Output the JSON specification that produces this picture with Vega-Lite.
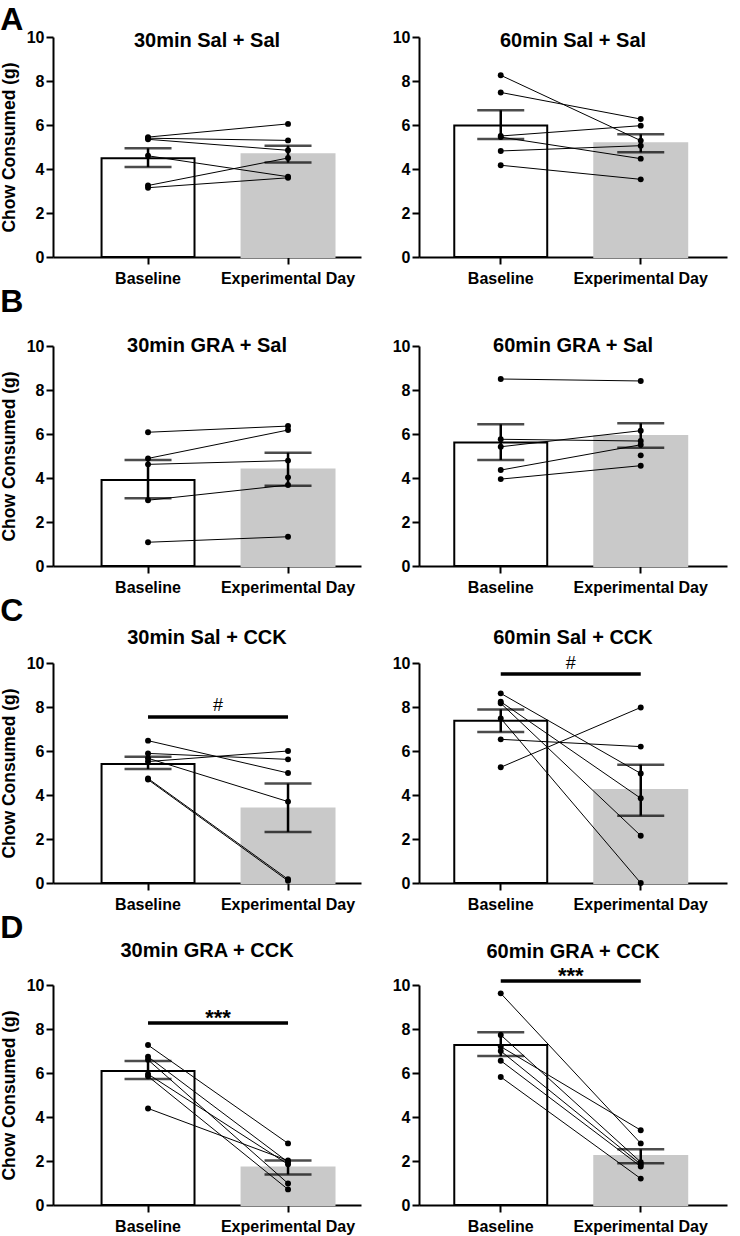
{
 "$schema": "https://vega.github.io/schema/vega-lite/v6.json",
 "padding": {"left": 0, "top": 4, "right": 5, "bottom": 2},
 "datasets": {
  "pts": [
   {"p":"A1","s":1,"c":"Baseline","v":5.45},{"p":"A1","s":1,"c":"Experimental Day","v":6.05},
   {"p":"A1","s":2,"c":"Baseline","v":5.4},{"p":"A1","s":2,"c":"Experimental Day","v":5.3},
   {"p":"A1","s":3,"c":"Baseline","v":5.35},{"p":"A1","s":3,"c":"Experimental Day","v":4.85},
   {"p":"A1","s":4,"c":"Baseline","v":4.6},{"p":"A1","s":4,"c":"Experimental Day","v":3.65},
   {"p":"A1","s":5,"c":"Baseline","v":3.25},{"p":"A1","s":5,"c":"Experimental Day","v":4.5},
   {"p":"A1","s":6,"c":"Baseline","v":3.15},{"p":"A1","s":6,"c":"Experimental Day","v":3.6},
   {"p":"A2","s":1,"c":"Baseline","v":8.26},{"p":"A2","s":1,"c":"Experimental Day","v":5.29},
   {"p":"A2","s":2,"c":"Baseline","v":7.48},{"p":"A2","s":2,"c":"Experimental Day","v":6.27},
   {"p":"A2","s":3,"c":"Baseline","v":5.5},{"p":"A2","s":3,"c":"Experimental Day","v":5.97},
   {"p":"A2","s":4,"c":"Baseline","v":5.45},{"p":"A2","s":4,"c":"Experimental Day","v":4.47},
   {"p":"A2","s":5,"c":"Baseline","v":4.82},{"p":"A2","s":5,"c":"Experimental Day","v":5.06},
   {"p":"A2","s":6,"c":"Baseline","v":4.17},{"p":"A2","s":6,"c":"Experimental Day","v":3.53},
   {"p":"B1","s":1,"c":"Baseline","v":6.08},{"p":"B1","s":1,"c":"Experimental Day","v":6.36},
   {"p":"B1","s":2,"c":"Baseline","v":4.89},{"p":"B1","s":2,"c":"Experimental Day","v":6.18},
   {"p":"B1","s":3,"c":"Baseline","v":4.62},{"p":"B1","s":3,"c":"Experimental Day","v":4.79},
   {"p":"B1","s":4,"c":"Baseline","v":2.99},{"p":"B1","s":4,"c":"Experimental Day","v":3.68},
   {"p":"B1","s":5,"c":"Baseline","v":1.08},{"p":"B1","s":5,"c":"Experimental Day","v":1.33},
   {"p":"B1","s":6,"c":"Experimental Day","v":4.03},
   {"p":"B2","s":1,"c":"Baseline","v":8.5},{"p":"B2","s":1,"c":"Experimental Day","v":8.41},
   {"p":"B2","s":2,"c":"Baseline","v":5.76},{"p":"B2","s":2,"c":"Experimental Day","v":5.68},
   {"p":"B2","s":3,"c":"Baseline","v":5.42},{"p":"B2","s":3,"c":"Experimental Day","v":6.15},
   {"p":"B2","s":4,"c":"Baseline","v":4.36},{"p":"B2","s":4,"c":"Experimental Day","v":5.51},
   {"p":"B2","s":5,"c":"Baseline","v":3.95},{"p":"B2","s":5,"c":"Experimental Day","v":4.56},
   {"p":"B2","s":6,"c":"Experimental Day","v":5.03},
   {"p":"C1","s":1,"c":"Baseline","v":6.47},{"p":"C1","s":1,"c":"Experimental Day","v":5.0},
   {"p":"C1","s":2,"c":"Baseline","v":5.89},{"p":"C1","s":2,"c":"Experimental Day","v":5.62},
   {"p":"C1","s":3,"c":"Baseline","v":5.52},{"p":"C1","s":3,"c":"Experimental Day","v":6.0},
   {"p":"C1","s":4,"c":"Baseline","v":5.67},{"p":"C1","s":4,"c":"Experimental Day","v":3.7},
   {"p":"C1","s":5,"c":"Baseline","v":4.75},{"p":"C1","s":5,"c":"Experimental Day","v":0.17},
   {"p":"C1","s":6,"c":"Baseline","v":4.7},{"p":"C1","s":6,"c":"Experimental Day","v":0.1},
   {"p":"C2","s":1,"c":"Baseline","v":5.26},{"p":"C2","s":1,"c":"Experimental Day","v":7.98},
   {"p":"C2","s":2,"c":"Baseline","v":6.53},{"p":"C2","s":2,"c":"Experimental Day","v":6.2},
   {"p":"C2","s":3,"c":"Baseline","v":8.62},{"p":"C2","s":3,"c":"Experimental Day","v":4.98},
   {"p":"C2","s":4,"c":"Baseline","v":8.24},{"p":"C2","s":4,"c":"Experimental Day","v":3.85},
   {"p":"C2","s":5,"c":"Baseline","v":8.17},{"p":"C2","s":5,"c":"Experimental Day","v":2.15},
   {"p":"C2","s":6,"c":"Baseline","v":7.48},{"p":"C2","s":6,"c":"Experimental Day","v":0.0},
   {"p":"D1","s":1,"c":"Baseline","v":7.27},{"p":"D1","s":1,"c":"Experimental Day","v":2.8},
   {"p":"D1","s":2,"c":"Baseline","v":6.74},{"p":"D1","s":2,"c":"Experimental Day","v":1.95},
   {"p":"D1","s":3,"c":"Baseline","v":6.6},{"p":"D1","s":3,"c":"Experimental Day","v":0.98},
   {"p":"D1","s":4,"c":"Baseline","v":5.95},{"p":"D1","s":4,"c":"Experimental Day","v":1.85},
   {"p":"D1","s":5,"c":"Baseline","v":5.85},{"p":"D1","s":5,"c":"Experimental Day","v":0.71},
   {"p":"D1","s":6,"c":"Baseline","v":4.39},{"p":"D1","s":6,"c":"Experimental Day","v":2.02},
   {"p":"D2","s":1,"c":"Baseline","v":9.62},{"p":"D2","s":1,"c":"Experimental Day","v":2.8},
   {"p":"D2","s":2,"c":"Baseline","v":7.73},{"p":"D2","s":2,"c":"Experimental Day","v":1.95},
   {"p":"D2","s":3,"c":"Baseline","v":7.2},{"p":"D2","s":3,"c":"Experimental Day","v":3.4},
   {"p":"D2","s":4,"c":"Baseline","v":7.0},{"p":"D2","s":4,"c":"Experimental Day","v":1.85},
   {"p":"D2","s":5,"c":"Baseline","v":6.56},{"p":"D2","s":5,"c":"Experimental Day","v":1.75},
   {"p":"D2","s":6,"c":"Baseline","v":5.82},{"p":"D2","s":6,"c":"Experimental Day","v":1.2}
  ],
  "summ": [
   {"p":"A1","c":"Baseline","m":4.49,"lo":4.09,"hi":4.94},{"p":"A1","c":"Experimental Day","m":4.67,"lo":4.29,"hi":5.06},
   {"p":"A2","c":"Baseline","m":5.98,"lo":5.36,"hi":6.67},{"p":"A2","c":"Experimental Day","m":5.17,"lo":4.76,"hi":5.58},
   {"p":"B1","c":"Baseline","m":3.91,"lo":3.08,"hi":4.82},{"p":"B1","c":"Experimental Day","m":4.39,"lo":3.65,"hi":5.15},
   {"p":"B2","c":"Baseline","m":5.61,"lo":4.82,"hi":6.44},{"p":"B2","c":"Experimental Day","m":5.91,"lo":5.38,"hi":6.49},
   {"p":"C1","c":"Baseline","m":5.41,"lo":5.18,"hi":5.74},{"p":"C1","c":"Experimental Day","m":3.39,"lo":2.32,"hi":4.52},
   {"p":"C2","c":"Baseline","m":7.38,"lo":6.86,"hi":7.89},{"p":"C2","c":"Experimental Day","m":4.23,"lo":3.06,"hi":5.38},
   {"p":"D1","c":"Baseline","m":6.09,"lo":5.73,"hi":6.55},{"p":"D1","c":"Experimental Day","m":1.7,"lo":1.39,"hi":2.02},
   {"p":"D2","c":"Baseline","m":7.27,"lo":6.77,"hi":7.85},{"p":"D2","c":"Experimental Day","m":2.23,"lo":1.9,"hi":2.53}
  ],
  "sig": [
   {"p":"C1","from":"Baseline","to":"Experimental Day","y":7.55,"label":"#"},
   {"p":"C2","from":"Baseline","to":"Experimental Day","y":9.5,"label":"#"},
   {"p":"D1","from":"Baseline","to":"Experimental Day","y":8.27,"label":"***"},
   {"p":"D2","from":"Baseline","to":"Experimental Day","y":10.18,"label":"***"}
  ]
 },
 "spacing": 0,
 "vconcat": [
  {
   "title": {"text": "A", "anchor": "start", "fontSize": 32, "offset": -8},
   "spacing": 31,
   "hconcat": [
    {
     "width": 308, "height": 220,
     "title": {"text": "30min Sal + Sal", "offset": -22},
     "encoding": {"x": {"field": "c", "type": "nominal", "title": null, "scale": {"domain": ["Baseline", "Experimental Day"], "paddingInner": 0.336, "paddingOuter": 0.268, "align": 0.647}, "axis": {"labelAngle": 0}}},
     "layer": [
      {"data": {"name": "summ"}, "transform": [{"filter": "datum.p==='A1'"}], "mark": {"type": "bar", "strokeWidth": 2}, "encoding": {"y": {"field": "m", "type": "quantitative", "title": "Chow Consumed (g)", "scale": {"domain": [0, 10]}}, "fill": {"field": "c", "type": "nominal", "scale": {"domain": ["Baseline", "Experimental Day"], "range": ["white", "#c9c9c9"]}, "legend": null}, "stroke": {"field": "c", "type": "nominal", "scale": {"domain": ["Baseline", "Experimental Day"], "range": ["black", "#c9c9c9"]}, "legend": null}}},
      {"data": {"name": "pts"}, "transform": [{"filter": "datum.p==='A1'"}], "mark": {"type": "line", "color": "black", "strokeWidth": 1}, "encoding": {"y": {"field": "v", "type": "quantitative", "title": "Chow Consumed (g)"}, "detail": {"field": "s", "type": "nominal"}}},
      {"data": {"name": "pts"}, "transform": [{"filter": "datum.p==='A1'"}], "mark": {"type": "circle", "color": "black", "size": 35, "opacity": 1}, "encoding": {"y": {"field": "v", "type": "quantitative", "title": "Chow Consumed (g)"}}},
      {"data": {"name": "summ"}, "transform": [{"filter": "datum.p==='A1'"}], "mark": {"type": "rule", "color": "black", "strokeWidth": 2.5}, "encoding": {"y": {"field": "lo", "type": "quantitative", "title": "Chow Consumed (g)"}, "y2": {"field": "hi"}}},
      {"data": {"name": "summ"}, "transform": [{"filter": "datum.p==='A1'"}], "mark": {"type": "tick", "color": "black", "thickness": 2.5, "size": 47}, "encoding": {"y": {"field": "lo", "type": "quantitative", "title": "Chow Consumed (g)"}}},
      {"data": {"name": "summ"}, "transform": [{"filter": "datum.p==='A1'"}], "mark": {"type": "tick", "color": "black", "thickness": 2.5, "size": 47}, "encoding": {"y": {"field": "hi", "type": "quantitative", "title": "Chow Consumed (g)"}}}
     ]
    },
    {
     "width": 308, "height": 220,
     "title": {"text": "60min Sal + Sal", "offset": -22},
     "encoding": {"x": {"field": "c", "type": "nominal", "title": null, "scale": {"domain": ["Baseline", "Experimental Day"], "paddingInner": 0.336, "paddingOuter": 0.268, "align": 0.47}, "axis": {"labelAngle": 0}}},
     "layer": [
      {"data": {"name": "summ"}, "transform": [{"filter": "datum.p==='A2'"}], "mark": {"type": "bar", "strokeWidth": 2}, "encoding": {"y": {"field": "m", "type": "quantitative", "title": null, "scale": {"domain": [0, 10]}}, "fill": {"field": "c", "type": "nominal", "scale": {"domain": ["Baseline", "Experimental Day"], "range": ["white", "#c9c9c9"]}, "legend": null}, "stroke": {"field": "c", "type": "nominal", "scale": {"domain": ["Baseline", "Experimental Day"], "range": ["black", "#c9c9c9"]}, "legend": null}}},
      {"data": {"name": "pts"}, "transform": [{"filter": "datum.p==='A2'"}], "mark": {"type": "line", "color": "black", "strokeWidth": 1}, "encoding": {"y": {"field": "v", "type": "quantitative", "title": null}, "detail": {"field": "s", "type": "nominal"}}},
      {"data": {"name": "pts"}, "transform": [{"filter": "datum.p==='A2'"}], "mark": {"type": "circle", "color": "black", "size": 35, "opacity": 1}, "encoding": {"y": {"field": "v", "type": "quantitative", "title": null}}},
      {"data": {"name": "summ"}, "transform": [{"filter": "datum.p==='A2'"}], "mark": {"type": "rule", "color": "black", "strokeWidth": 2.5}, "encoding": {"y": {"field": "lo", "type": "quantitative", "title": null}, "y2": {"field": "hi"}}},
      {"data": {"name": "summ"}, "transform": [{"filter": "datum.p==='A2'"}], "mark": {"type": "tick", "color": "black", "thickness": 2.5, "size": 47}, "encoding": {"y": {"field": "lo", "type": "quantitative", "title": null}}},
      {"data": {"name": "summ"}, "transform": [{"filter": "datum.p==='A2'"}], "mark": {"type": "tick", "color": "black", "thickness": 2.5, "size": 47}, "encoding": {"y": {"field": "hi", "type": "quantitative", "title": null}}}
     ]
    }
   ]
  },
  {
   "title": {"text": "B", "anchor": "start", "fontSize": 32, "offset": 16.7},
   "spacing": 31,
   "hconcat": [
    {
     "width": 308, "height": 220,
     "title": {"text": "30min GRA + Sal", "offset": -18},
     "encoding": {"x": {"field": "c", "type": "nominal", "title": null, "scale": {"domain": ["Baseline", "Experimental Day"], "paddingInner": 0.336, "paddingOuter": 0.268, "align": 0.647}, "axis": {"labelAngle": 0}}},
     "layer": [
      {"data": {"name": "summ"}, "transform": [{"filter": "datum.p==='B1'"}], "mark": {"type": "bar", "strokeWidth": 2}, "encoding": {"y": {"field": "m", "type": "quantitative", "title": "Chow Consumed (g)", "scale": {"domain": [0, 10]}}, "fill": {"field": "c", "type": "nominal", "scale": {"domain": ["Baseline", "Experimental Day"], "range": ["white", "#c9c9c9"]}, "legend": null}, "stroke": {"field": "c", "type": "nominal", "scale": {"domain": ["Baseline", "Experimental Day"], "range": ["black", "#c9c9c9"]}, "legend": null}}},
      {"data": {"name": "pts"}, "transform": [{"filter": "datum.p==='B1'"}], "mark": {"type": "line", "color": "black", "strokeWidth": 1}, "encoding": {"y": {"field": "v", "type": "quantitative", "title": "Chow Consumed (g)"}, "detail": {"field": "s", "type": "nominal"}}},
      {"data": {"name": "pts"}, "transform": [{"filter": "datum.p==='B1'"}], "mark": {"type": "circle", "color": "black", "size": 35, "opacity": 1}, "encoding": {"y": {"field": "v", "type": "quantitative", "title": "Chow Consumed (g)"}}},
      {"data": {"name": "summ"}, "transform": [{"filter": "datum.p==='B1'"}], "mark": {"type": "rule", "color": "black", "strokeWidth": 2.5}, "encoding": {"y": {"field": "lo", "type": "quantitative", "title": "Chow Consumed (g)"}, "y2": {"field": "hi"}}},
      {"data": {"name": "summ"}, "transform": [{"filter": "datum.p==='B1'"}], "mark": {"type": "tick", "color": "black", "thickness": 2.5, "size": 47}, "encoding": {"y": {"field": "lo", "type": "quantitative", "title": "Chow Consumed (g)"}}},
      {"data": {"name": "summ"}, "transform": [{"filter": "datum.p==='B1'"}], "mark": {"type": "tick", "color": "black", "thickness": 2.5, "size": 47}, "encoding": {"y": {"field": "hi", "type": "quantitative", "title": "Chow Consumed (g)"}}}
     ]
    },
    {
     "width": 308, "height": 220,
     "title": {"text": "60min GRA + Sal", "offset": -18},
     "encoding": {"x": {"field": "c", "type": "nominal", "title": null, "scale": {"domain": ["Baseline", "Experimental Day"], "paddingInner": 0.336, "paddingOuter": 0.268, "align": 0.47}, "axis": {"labelAngle": 0}}},
     "layer": [
      {"data": {"name": "summ"}, "transform": [{"filter": "datum.p==='B2'"}], "mark": {"type": "bar", "strokeWidth": 2}, "encoding": {"y": {"field": "m", "type": "quantitative", "title": null, "scale": {"domain": [0, 10]}}, "fill": {"field": "c", "type": "nominal", "scale": {"domain": ["Baseline", "Experimental Day"], "range": ["white", "#c9c9c9"]}, "legend": null}, "stroke": {"field": "c", "type": "nominal", "scale": {"domain": ["Baseline", "Experimental Day"], "range": ["black", "#c9c9c9"]}, "legend": null}}},
      {"data": {"name": "pts"}, "transform": [{"filter": "datum.p==='B2'"}], "mark": {"type": "line", "color": "black", "strokeWidth": 1}, "encoding": {"y": {"field": "v", "type": "quantitative", "title": null}, "detail": {"field": "s", "type": "nominal"}}},
      {"data": {"name": "pts"}, "transform": [{"filter": "datum.p==='B2'"}], "mark": {"type": "circle", "color": "black", "size": 35, "opacity": 1}, "encoding": {"y": {"field": "v", "type": "quantitative", "title": null}}},
      {"data": {"name": "summ"}, "transform": [{"filter": "datum.p==='B2'"}], "mark": {"type": "rule", "color": "black", "strokeWidth": 2.5}, "encoding": {"y": {"field": "lo", "type": "quantitative", "title": null}, "y2": {"field": "hi"}}},
      {"data": {"name": "summ"}, "transform": [{"filter": "datum.p==='B2'"}], "mark": {"type": "tick", "color": "black", "thickness": 2.5, "size": 47}, "encoding": {"y": {"field": "lo", "type": "quantitative", "title": null}}},
      {"data": {"name": "summ"}, "transform": [{"filter": "datum.p==='B2'"}], "mark": {"type": "tick", "color": "black", "thickness": 2.5, "size": 47}, "encoding": {"y": {"field": "hi", "type": "quantitative", "title": null}}}
     ]
    }
   ]
  },
  {
   "title": {"text": "C", "anchor": "start", "fontSize": 32, "offset": -0.3},
   "spacing": 31,
   "hconcat": [
    {
     "width": 308, "height": 220,
     "title": {"text": "30min Sal + CCK", "offset": 7},
     "encoding": {"x": {"field": "c", "type": "nominal", "title": null, "scale": {"domain": ["Baseline", "Experimental Day"], "paddingInner": 0.336, "paddingOuter": 0.268, "align": 0.647}, "axis": {"labelAngle": 0}}},
     "layer": [
      {"data": {"name": "summ"}, "transform": [{"filter": "datum.p==='C1'"}], "mark": {"type": "bar", "strokeWidth": 2}, "encoding": {"y": {"field": "m", "type": "quantitative", "title": "Chow Consumed (g)", "scale": {"domain": [0, 10]}}, "fill": {"field": "c", "type": "nominal", "scale": {"domain": ["Baseline", "Experimental Day"], "range": ["white", "#c9c9c9"]}, "legend": null}, "stroke": {"field": "c", "type": "nominal", "scale": {"domain": ["Baseline", "Experimental Day"], "range": ["black", "#c9c9c9"]}, "legend": null}}},
      {"data": {"name": "pts"}, "transform": [{"filter": "datum.p==='C1'"}], "mark": {"type": "line", "color": "black", "strokeWidth": 1}, "encoding": {"y": {"field": "v", "type": "quantitative", "title": "Chow Consumed (g)"}, "detail": {"field": "s", "type": "nominal"}}},
      {"data": {"name": "pts"}, "transform": [{"filter": "datum.p==='C1'"}], "mark": {"type": "circle", "color": "black", "size": 35, "opacity": 1}, "encoding": {"y": {"field": "v", "type": "quantitative", "title": "Chow Consumed (g)"}}},
      {"data": {"name": "summ"}, "transform": [{"filter": "datum.p==='C1'"}], "mark": {"type": "rule", "color": "black", "strokeWidth": 2.5}, "encoding": {"y": {"field": "lo", "type": "quantitative", "title": "Chow Consumed (g)"}, "y2": {"field": "hi"}}},
      {"data": {"name": "summ"}, "transform": [{"filter": "datum.p==='C1'"}], "mark": {"type": "tick", "color": "black", "thickness": 2.5, "size": 47}, "encoding": {"y": {"field": "lo", "type": "quantitative", "title": "Chow Consumed (g)"}}},
      {"data": {"name": "summ"}, "transform": [{"filter": "datum.p==='C1'"}], "mark": {"type": "tick", "color": "black", "thickness": 2.5, "size": 47}, "encoding": {"y": {"field": "hi", "type": "quantitative", "title": "Chow Consumed (g)"}}},
      {"data": {"name": "sig"}, "transform": [{"filter": "datum.p==='C1'"}], "mark": {"type": "rule", "color": "black", "strokeWidth": 3.5}, "encoding": {"x": {"field": "from", "type": "nominal", "title": null}, "x2": {"field": "to"}, "y": {"field": "y", "type": "quantitative", "title": "Chow Consumed (g)"}}},
      {"data": {"name": "sig"}, "transform": [{"filter": "datum.p==='C1'"}], "mark": {"type": "text", "dx": 70, "dy": -6, "baseline": "alphabetic", "fontSize": 18, "color": "black"}, "encoding": {"x": {"field": "from", "type": "nominal", "title": null}, "y": {"field": "y", "type": "quantitative", "title": "Chow Consumed (g)"}, "text": {"field": "label"}}}
     ]
    },
    {
     "width": 308, "height": 220,
     "title": {"text": "60min Sal + CCK", "offset": 7},
     "encoding": {"x": {"field": "c", "type": "nominal", "title": null, "scale": {"domain": ["Baseline", "Experimental Day"], "paddingInner": 0.336, "paddingOuter": 0.268, "align": 0.47}, "axis": {"labelAngle": 0}}},
     "layer": [
      {"data": {"name": "summ"}, "transform": [{"filter": "datum.p==='C2'"}], "mark": {"type": "bar", "strokeWidth": 2}, "encoding": {"y": {"field": "m", "type": "quantitative", "title": null, "scale": {"domain": [0, 10]}}, "fill": {"field": "c", "type": "nominal", "scale": {"domain": ["Baseline", "Experimental Day"], "range": ["white", "#c9c9c9"]}, "legend": null}, "stroke": {"field": "c", "type": "nominal", "scale": {"domain": ["Baseline", "Experimental Day"], "range": ["black", "#c9c9c9"]}, "legend": null}}},
      {"data": {"name": "pts"}, "transform": [{"filter": "datum.p==='C2'"}], "mark": {"type": "line", "color": "black", "strokeWidth": 1}, "encoding": {"y": {"field": "v", "type": "quantitative", "title": null}, "detail": {"field": "s", "type": "nominal"}}},
      {"data": {"name": "pts"}, "transform": [{"filter": "datum.p==='C2'"}], "mark": {"type": "circle", "color": "black", "size": 35, "opacity": 1}, "encoding": {"y": {"field": "v", "type": "quantitative", "title": null}}},
      {"data": {"name": "summ"}, "transform": [{"filter": "datum.p==='C2'"}], "mark": {"type": "rule", "color": "black", "strokeWidth": 2.5}, "encoding": {"y": {"field": "lo", "type": "quantitative", "title": null}, "y2": {"field": "hi"}}},
      {"data": {"name": "summ"}, "transform": [{"filter": "datum.p==='C2'"}], "mark": {"type": "tick", "color": "black", "thickness": 2.5, "size": 47}, "encoding": {"y": {"field": "lo", "type": "quantitative", "title": null}}},
      {"data": {"name": "summ"}, "transform": [{"filter": "datum.p==='C2'"}], "mark": {"type": "tick", "color": "black", "thickness": 2.5, "size": 47}, "encoding": {"y": {"field": "hi", "type": "quantitative", "title": null}}},
      {"data": {"name": "sig"}, "transform": [{"filter": "datum.p==='C2'"}], "mark": {"type": "rule", "color": "black", "strokeWidth": 3.5}, "encoding": {"x": {"field": "from", "type": "nominal", "title": null}, "x2": {"field": "to"}, "y": {"field": "y", "type": "quantitative", "title": null}}},
      {"data": {"name": "sig"}, "transform": [{"filter": "datum.p==='C2'"}], "mark": {"type": "text", "dx": 70, "dy": -5, "baseline": "alphabetic", "fontSize": 18, "color": "black"}, "encoding": {"x": {"field": "from", "type": "nominal", "title": null}, "y": {"field": "y", "type": "quantitative", "title": null}, "text": {"field": "label"}}}
     ]
    }
   ]
  },
  {
   "title": {"text": "D", "anchor": "start", "fontSize": 32, "offset": -4.3},
   "spacing": 31,
   "hconcat": [
    {
     "width": 308, "height": 220,
     "title": {"text": "30min GRA + CCK", "offset": 16},
     "encoding": {"x": {"field": "c", "type": "nominal", "title": null, "scale": {"domain": ["Baseline", "Experimental Day"], "paddingInner": 0.336, "paddingOuter": 0.268, "align": 0.647}, "axis": {"labelAngle": 0}}},
     "layer": [
      {"data": {"name": "summ"}, "transform": [{"filter": "datum.p==='D1'"}], "mark": {"type": "bar", "strokeWidth": 2}, "encoding": {"y": {"field": "m", "type": "quantitative", "title": "Chow Consumed (g)", "scale": {"domain": [0, 10]}}, "fill": {"field": "c", "type": "nominal", "scale": {"domain": ["Baseline", "Experimental Day"], "range": ["white", "#c9c9c9"]}, "legend": null}, "stroke": {"field": "c", "type": "nominal", "scale": {"domain": ["Baseline", "Experimental Day"], "range": ["black", "#c9c9c9"]}, "legend": null}}},
      {"data": {"name": "pts"}, "transform": [{"filter": "datum.p==='D1'"}], "mark": {"type": "line", "color": "black", "strokeWidth": 1}, "encoding": {"y": {"field": "v", "type": "quantitative", "title": "Chow Consumed (g)"}, "detail": {"field": "s", "type": "nominal"}}},
      {"data": {"name": "pts"}, "transform": [{"filter": "datum.p==='D1'"}], "mark": {"type": "circle", "color": "black", "size": 35, "opacity": 1}, "encoding": {"y": {"field": "v", "type": "quantitative", "title": "Chow Consumed (g)"}}},
      {"data": {"name": "summ"}, "transform": [{"filter": "datum.p==='D1'"}], "mark": {"type": "rule", "color": "black", "strokeWidth": 2.5}, "encoding": {"y": {"field": "lo", "type": "quantitative", "title": "Chow Consumed (g)"}, "y2": {"field": "hi"}}},
      {"data": {"name": "summ"}, "transform": [{"filter": "datum.p==='D1'"}], "mark": {"type": "tick", "color": "black", "thickness": 2.5, "size": 47}, "encoding": {"y": {"field": "lo", "type": "quantitative", "title": "Chow Consumed (g)"}}},
      {"data": {"name": "summ"}, "transform": [{"filter": "datum.p==='D1'"}], "mark": {"type": "tick", "color": "black", "thickness": 2.5, "size": 47}, "encoding": {"y": {"field": "hi", "type": "quantitative", "title": "Chow Consumed (g)"}}},
      {"data": {"name": "sig"}, "transform": [{"filter": "datum.p==='D1'"}], "mark": {"type": "rule", "color": "black", "strokeWidth": 3.5}, "encoding": {"x": {"field": "from", "type": "nominal", "title": null}, "x2": {"field": "to"}, "y": {"field": "y", "type": "quantitative", "title": "Chow Consumed (g)"}}},
      {"data": {"name": "sig"}, "transform": [{"filter": "datum.p==='D1'"}], "mark": {"type": "text", "dx": 70, "dy": 2, "baseline": "alphabetic", "fontSize": 22, "fontWeight": "bold", "color": "black"}, "encoding": {"x": {"field": "from", "type": "nominal", "title": null}, "y": {"field": "y", "type": "quantitative", "title": "Chow Consumed (g)"}, "text": {"field": "label"}}}
     ]
    },
    {
     "width": 308, "height": 220,
     "title": {"text": "60min GRA + CCK", "offset": 3},
     "encoding": {"x": {"field": "c", "type": "nominal", "title": null, "scale": {"domain": ["Baseline", "Experimental Day"], "paddingInner": 0.336, "paddingOuter": 0.268, "align": 0.47}, "axis": {"labelAngle": 0}}},
     "layer": [
      {"data": {"name": "summ"}, "transform": [{"filter": "datum.p==='D2'"}], "mark": {"type": "bar", "strokeWidth": 2}, "encoding": {"y": {"field": "m", "type": "quantitative", "title": null, "scale": {"domain": [0, 10]}}, "fill": {"field": "c", "type": "nominal", "scale": {"domain": ["Baseline", "Experimental Day"], "range": ["white", "#c9c9c9"]}, "legend": null}, "stroke": {"field": "c", "type": "nominal", "scale": {"domain": ["Baseline", "Experimental Day"], "range": ["black", "#c9c9c9"]}, "legend": null}}},
      {"data": {"name": "pts"}, "transform": [{"filter": "datum.p==='D2'"}], "mark": {"type": "line", "color": "black", "strokeWidth": 1}, "encoding": {"y": {"field": "v", "type": "quantitative", "title": null}, "detail": {"field": "s", "type": "nominal"}}},
      {"data": {"name": "pts"}, "transform": [{"filter": "datum.p==='D2'"}], "mark": {"type": "circle", "color": "black", "size": 35, "opacity": 1}, "encoding": {"y": {"field": "v", "type": "quantitative", "title": null}}},
      {"data": {"name": "summ"}, "transform": [{"filter": "datum.p==='D2'"}], "mark": {"type": "rule", "color": "black", "strokeWidth": 2.5}, "encoding": {"y": {"field": "lo", "type": "quantitative", "title": null}, "y2": {"field": "hi"}}},
      {"data": {"name": "summ"}, "transform": [{"filter": "datum.p==='D2'"}], "mark": {"type": "tick", "color": "black", "thickness": 2.5, "size": 47}, "encoding": {"y": {"field": "lo", "type": "quantitative", "title": null}}},
      {"data": {"name": "summ"}, "transform": [{"filter": "datum.p==='D2'"}], "mark": {"type": "tick", "color": "black", "thickness": 2.5, "size": 47}, "encoding": {"y": {"field": "hi", "type": "quantitative", "title": null}}},
      {"data": {"name": "sig"}, "transform": [{"filter": "datum.p==='D2'"}], "mark": {"type": "rule", "color": "black", "strokeWidth": 3.5}, "encoding": {"x": {"field": "from", "type": "nominal", "title": null}, "x2": {"field": "to"}, "y": {"field": "y", "type": "quantitative", "title": null}}},
      {"data": {"name": "sig"}, "transform": [{"filter": "datum.p==='D2'"}], "mark": {"type": "text", "dx": 70, "dy": 2, "baseline": "alphabetic", "fontSize": 22, "fontWeight": "bold", "color": "black"}, "encoding": {"x": {"field": "from", "type": "nominal", "title": null}, "y": {"field": "y", "type": "quantitative", "title": null}, "text": {"field": "label"}}}
     ]
    }
   ]
  }
 ],
 "config": {
  "font": "Liberation Sans",
  "view": {"stroke": null},
  "axis": {"domainColor": "black", "domainWidth": 2, "tickColor": "black", "tickWidth": 2, "tickSize": 7, "labelFontSize": 16, "labelFontWeight": "bold", "labelColor": "black", "grid": false, "titleFontSize": 17.5, "titleFontWeight": "bold", "titleColor": "black"},
  "axisX": {"labelPadding": 6},
  "axisY": {"labelPadding": 2, "titlePadding": 8, "tickCount": 5},
  "title": {"fontSize": 20, "fontWeight": "bold", "color": "black"}
 }
}
